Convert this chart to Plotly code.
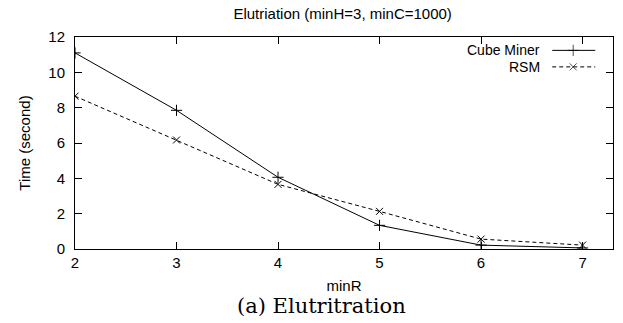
import plotly.graph_objects as go

min_r = [2, 3, 4, 5, 6, 7]
cube_miner = [11.1, 7.85, 4.06, 1.34, 0.22, 0.06]
rsm = [8.65, 6.17, 3.66, 2.13, 0.56, 0.22]
x_ticks = [2, 3, 4, 5, 6, 7]
y_ticks = [0, 2, 4, 6, 8, 10, 12]

fig = go.Figure()
fig.add_trace(go.Scatter(x=min_r, y=cube_miner, mode="lines+markers", name="Cube Miner",
                         line=dict(color="black", width=1),
                         marker=dict(symbol="cross-thin-open", size=8, line=dict(color="black", width=1)),
                         showlegend=False))
fig.add_trace(go.Scatter(x=min_r, y=rsm, mode="lines+markers", name="RSM",
                         line=dict(color="black", width=1, dash="4px,3px"),
                         marker=dict(symbol="x-thin-open", size=7, line=dict(color="black", width=1)),
                         showlegend=False))

# manual legend (line samples to the right of the text, gnuplot style); x2/y2 are plot-area fractions
fig.add_trace(go.Scatter(x=[0.887, 0.926, 0.967], y=[0.937, 0.937, 0.937], mode="lines+markers",
                         xaxis="x2", yaxis="y2", showlegend=False, hoverinfo="skip",
                         line=dict(color="black", width=1),
                         marker=dict(symbol=["line-ns", "cross-thin-open", "line-ns"], size=[0, 8, 0],
                                     line=dict(color="black", width=1))))
fig.add_trace(go.Scatter(x=[0.887, 0.926, 0.967], y=[0.859, 0.859, 0.859], mode="lines+markers",
                         xaxis="x2", yaxis="y2", showlegend=False, hoverinfo="skip",
                         line=dict(color="black", width=1, dash="4px,3px"),
                         marker=dict(symbol=["line-ns", "x-thin-open", "line-ns"], size=[0, 7, 0],
                                     line=dict(color="black", width=1))))

font = "Liberation Sans, Arial, sans-serif"
fig.update_layout(
    width=623, height=323,
    margin=dict(l=75, r=10, t=37, b=74),
    paper_bgcolor="white", plot_bgcolor="white",
    font=dict(family=font, size=15, color="black"),
    title=dict(text="Elutriation (minH=3, minC=1000)", x=0.55, xanchor="center", y=0.957, yanchor="middle",
               font=dict(family=font, size=15, color="black")),
    xaxis=dict(range=[2, 7.3], tickvals=x_ticks, ticks="inside", ticklen=7, tickcolor="black",
               showline=True, linecolor="black", linewidth=1, mirror="ticks", showgrid=False, zeroline=False,
               title=dict(text="minR", font=dict(size=15), standoff=10),
               tickfont=dict(size=15)),
    yaxis=dict(range=[0, 12], tickvals=y_ticks, ticks="inside", ticklen=7, tickcolor="black",
               showline=True, linecolor="black", linewidth=1, mirror="ticks", showgrid=False, zeroline=False,
               title=dict(text="Time (second)", font=dict(size=15), standoff=14),
               tickfont=dict(size=15), ticklabelstandoff=6),
    xaxis2=dict(range=[0, 1], overlaying="x", visible=False, fixedrange=True),
    yaxis2=dict(range=[0, 1], overlaying="y", visible=False, fixedrange=True),
    annotations=[
        dict(text="Cube Miner", xref="paper", yref="paper", x=0.868, y=0.937, xanchor="right",
             yanchor="middle", showarrow=False, font=dict(family=font, size=14)),
        dict(text="RSM", xref="paper", yref="paper", x=0.868, y=0.859, xanchor="right",
             yanchor="middle", showarrow=False, font=dict(family=font, size=14)),
        dict(text="(a) Elutritration", xref="paper", yref="paper", x=0.459, y=-0.269,
             xanchor="center", yanchor="middle", showarrow=False,
             font=dict(family="DejaVu Serif, Liberation Serif, serif", size=21)),
    ],
)
fig.write_html("out.html")
